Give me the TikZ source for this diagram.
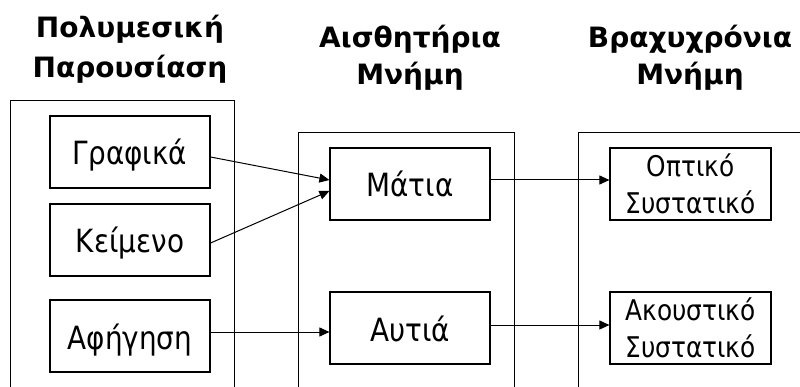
\documentclass[tikz,border=0pt]{standalone}
\usepackage{fontspec}
\setmainfont{DejaVu Sans}[FakeStretch=0.87]
\newfontfamily\titlefont{DejaVu Sans}[FakeStretch=1.0]
\usetikzlibrary{arrows.meta,calc}
\begin{document}
\begin{tikzpicture}[x=1pt,y=-1pt,
  colbox/.style={draw, line width=1pt, anchor=north west, minimum height=300pt, inner sep=0pt},
  itembox/.style={draw, line width=1.2pt, minimum width=160pt, minimum height=72pt, inner sep=0pt,
    font=\fontsize{32}{38}\selectfont, text height=26pt, text depth=0pt},
  twobox/.style={draw, line width=1.2pt, minimum width=161pt, minimum height=72pt, inner sep=0pt,
    font=\fontsize{28.5}{37}\selectfont, align=center},
  title/.style={anchor=base, inner sep=0pt, font=\titlefont\bfseries\fontsize{28}{37}\selectfont},
  arr/.style={line width=1pt, -{Triangle[length=10pt,width=9pt]}}]
\clip (0,0) rectangle (800,387);
\fill[white] (0,0) rectangle (800,387);
% titles
\node[title] (t1a) at (130,38) {Πολυμεσική};
\node[title] (t1b) at (130,78) {Παρουσίαση};
\node[title] (t2a) at (410,48) {Αισθητήρια};
\node[title] (t2b) at (410,85) {Μνήμη};
\node[title] (t3a) at (690,48) {Βραχυχρόνια};
\node[title] (t3b) at (690,85) {Μνήμη};
% column boxes
\node[colbox, minimum width=224pt] (c1) at (10,100) {};
\node[colbox, minimum width=216pt] (c2) at (298,132) {};
\node[colbox, minimum width=240pt] (c3) at (578,132) {};
% items
\node[itembox] (graf) at (130,152) {Γραφικά};
\node[itembox] (kei) at (130,240) {Κείμενο};
\node[itembox] (afi) at (130,336) {Αφήγηση};
\node[itembox] (mat) at (410,184) {Μάτια};
\node[itembox] (aut) at (410,328) {Αυτιά};
\node[twobox] (opt) at (690.5,184) {Οπτικό\\Συστατικό};
\node[twobox] (aku) at (690.5,328) {Ακουστικό\\Συστατικό};
% arrows
\draw[arr] ($(graf.east)+(0,5)$) -- ($(mat.west)+(0,-4)$);
\draw[arr] ($(kei.east)+(0,3)$) -- ($(mat.west)+(0,7)$);
\draw[arr] ($(afi.east)+(0,-4)$) -- ($(aut.west)+(0,4)$);
\draw[arr] ($(mat.east)+(0,-4)$) -- ($(opt.west)+(0,-4)$);
\draw[arr] ($(aut.east)+(0,-3)$) -- ($(aku.west)+(0,-3)$);
\end{tikzpicture}
\end{document}
